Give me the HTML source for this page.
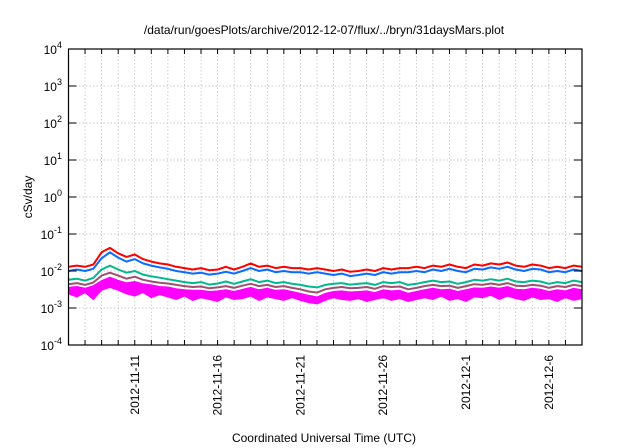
<!DOCTYPE html>
<html><head><meta charset="utf-8"><style>
html,body{margin:0;padding:0;background:#fff;}
svg{display:block;font-family:"Liberation Sans",sans-serif;}
</style></head><body>
<svg id="chart" width="640" height="448" viewBox="0 0 640 448" xmlns="http://www.w3.org/2000/svg">
<text x="324" y="34" font-size="12" text-anchor="middle">/data/run/goesPlots/archive/2012-12-07/flux/../bryn/31daysMars.plot</text>
<text transform="translate(32,197) rotate(-90)" font-size="12" text-anchor="middle">cSv/day</text>
<text x="324" y="442" font-size="12" text-anchor="middle">Coordinated Universal Time (UTC)</text>
<g id="grid"></g><g id="series"></g><g id="axes"></g>
</svg>
<script>
const yTickExps = [-4,-3,-2,-1,0,1,2,3,4];
const xTickLabels = ["2012-11-11","2012-11-16","2012-11-21","2012-11-26","2012-12-1","2012-12-6"];
const xTickDays = [4,9,14,19,24,29];
const red = [0.013,0.014,0.013,0.015,0.032,0.042,0.030,0.024,0.028,0.021,0.018,0.016,0.015,0.013,0.012,0.011,0.012,0.0105,0.011,0.013,0.011,0.013,0.016,0.013,0.014,0.012,0.013,0.012,0.012,0.011,0.012,0.011,0.010,0.011,0.0095,0.010,0.011,0.010,0.012,0.011,0.012,0.012,0.013,0.012,0.014,0.013,0.015,0.013,0.012,0.015,0.014,0.016,0.015,0.017,0.014,0.013,0.015,0.014,0.012,0.013,0.012,0.014,0.013];
const blue = [0.010,0.011,0.010,0.0115,0.022,0.032,0.023,0.018,0.021,0.016,0.014,0.0125,0.0115,0.010,0.0093,0.0085,0.009,0.008,0.0085,0.0095,0.0085,0.010,0.012,0.010,0.011,0.0093,0.010,0.0093,0.0093,0.0085,0.0093,0.0085,0.0078,0.0085,0.0073,0.0078,0.0085,0.0078,0.0093,0.0085,0.0093,0.0093,0.010,0.0093,0.011,0.010,0.0115,0.010,0.0093,0.0115,0.011,0.0125,0.0115,0.013,0.011,0.010,0.0115,0.011,0.0093,0.010,0.0093,0.011,0.010];
const teal = [0.0058,0.0062,0.0055,0.0065,0.011,0.014,0.011,0.009,0.010,0.008,0.0072,0.0066,0.006,0.0055,0.005,0.0047,0.005,0.0043,0.0046,0.0052,0.0045,0.0052,0.006,0.005,0.0055,0.0047,0.005,0.0045,0.0042,0.0038,0.0036,0.0042,0.0045,0.0047,0.0043,0.0045,0.0047,0.0042,0.005,0.0047,0.005,0.0042,0.0045,0.005,0.0055,0.005,0.0052,0.0045,0.005,0.0058,0.0055,0.006,0.0055,0.0062,0.0052,0.005,0.0055,0.0052,0.0045,0.005,0.0047,0.0055,0.005];
const purple = [0.0044,0.0047,0.0042,0.0049,0.0075,0.009,0.0075,0.0062,0.007,0.0058,0.0052,0.0048,0.0046,0.0042,0.0039,0.0037,0.0038,0.0034,0.0036,0.0039,0.0035,0.004,0.0045,0.0039,0.0042,0.0037,0.0039,0.0035,0.0032,0.0028,0.0026,0.0032,0.0035,0.0037,0.0034,0.0035,0.0037,0.0033,0.0039,0.0037,0.0038,0.0032,0.0035,0.0039,0.0042,0.0039,0.004,0.0035,0.0039,0.0044,0.0042,0.0046,0.0042,0.0047,0.004,0.0039,0.0042,0.004,0.0035,0.0039,0.0037,0.0042,0.0039];
const magHi = [0.0036,0.0038,0.0034,0.004,0.0055,0.0068,0.0056,0.0048,0.0052,0.0045,0.0042,0.0038,0.0037,0.0033,0.0031,0.003,0.003,0.0028,0.0029,0.0031,0.0028,0.0032,0.0036,0.0031,0.0034,0.003,0.0031,0.0028,0.0025,0.0022,0.002,0.0025,0.0028,0.0029,0.0027,0.0028,0.0029,0.0026,0.0031,0.0029,0.003,0.0025,0.0028,0.0031,0.0034,0.0031,0.0032,0.0028,0.0031,0.0035,0.0034,0.0037,0.0034,0.0038,0.0032,0.0031,0.0034,0.0032,0.0028,0.0031,0.0029,0.0034,0.0031];
const magLo = [0.0024,0.002,0.0026,0.0017,0.003,0.0036,0.003,0.0024,0.0021,0.0026,0.0019,0.0023,0.002,0.0017,0.0021,0.0016,0.0019,0.0017,0.0015,0.002,0.0017,0.0018,0.0021,0.0016,0.002,0.0018,0.0016,0.0019,0.0016,0.0014,0.0013,0.0016,0.0019,0.0017,0.0016,0.0018,0.0015,0.0017,0.0019,0.0016,0.0018,0.0015,0.0017,0.0019,0.0017,0.0021,0.0016,0.0018,0.0015,0.002,0.0019,0.0022,0.0017,0.0021,0.0018,0.0016,0.002,0.0017,0.0018,0.0015,0.0019,0.0016,0.0018];
const stepDays = 0.5;

const L=68.5,R=582,T=49,B=345, dayPx=(R-L)/31;
const xS=d=>L+d*dayPx;
const yS=v=>B-(Math.log10(v)+4)*(B-T)/8;
const NS="http://www.w3.org/2000/svg";
function mk(tag,attrs,parent){const e=document.createElementNS(NS,tag);for(const k in attrs)e.setAttribute(k,attrs[k]);parent.appendChild(e);return e;}
const grid=document.getElementById('grid'),axes=document.getElementById('axes'),ser=document.getElementById('series');

for(let d=1;d<31;d++){
  const g=mk('line',{x1:xS(d),x2:xS(d),y1:T,y2:B,stroke:'#bbb','stroke-width':0.7,'stroke-dasharray':'1.5,2'},grid);
  
  
  const t1=mk('line',{x1:xS(d),x2:xS(d),y1:B,y2:B-5,stroke:'#000','stroke-width':1},axes);
  
  
  const t2=mk('line',{x1:xS(d),x2:xS(d),y1:T,y2:T+5,stroke:'#000','stroke-width':1},axes);
  
  
}
yTickExps.forEach(e=>{
  const y=yS(Math.pow(10,e));
  if(e>-4&&e<4){
    const g=mk('line',{x1:L,x2:R,y1:y,y2:y,stroke:'#bbb','stroke-width':0.7,'stroke-dasharray':'1.5,2'},grid);
    
    
  }
  const t=mk('line',{x1:L,x2:L+8,y1:y,y2:y,stroke:'#000'},axes);
  
  
  const t2=mk('line',{x1:R,x2:R-8,y1:y,y2:y,stroke:'#000'},axes);
  
  
  const tx=mk('text',{x:62,y:y+5,'font-size':12,'text-anchor':'end'},axes);
  
  
  tx.innerHTML='10<tspan dy="-6" font-size="9">'+e+'</tspan>';
});
xTickLabels.forEach((lab,i)=>{
  const x=xS(xTickDays[i]);
  const tx=mk('text',{transform:`translate(${x+4},355) rotate(-90)`,'font-size':12,'text-anchor':'end'},axes);
  
  
  tx.textContent=lab;
});
const frame=mk('rect',{x:L,y:T,width:R-L,height:B-T,fill:'none',stroke:'#000','stroke-width':1.2},axes);



const pts=arr=>arr.map((v,i)=>xS(Math.min(i*stepDays,31)).toFixed(1)+','+yS(v).toFixed(1));
const band=mk('polygon',{points:pts(magHi).concat(pts(magLo).reverse()).join(' '),fill:'#ff00ff',stroke:'#ff00ff','stroke-width':1},ser);


[[purple,'#a0506e','series-purple'],[teal,'#00b890','series-teal'],[blue,'#0a6cff','series-blue'],[red,'#ff0000','series-red']].forEach(([a,c,n])=>{
  const p=mk('polyline',{points:pts(a).join(' '),fill:'none',stroke:c,'stroke-width':2,'stroke-linejoin':'round'},ser);
  
  
});
</script>
</body></html>
